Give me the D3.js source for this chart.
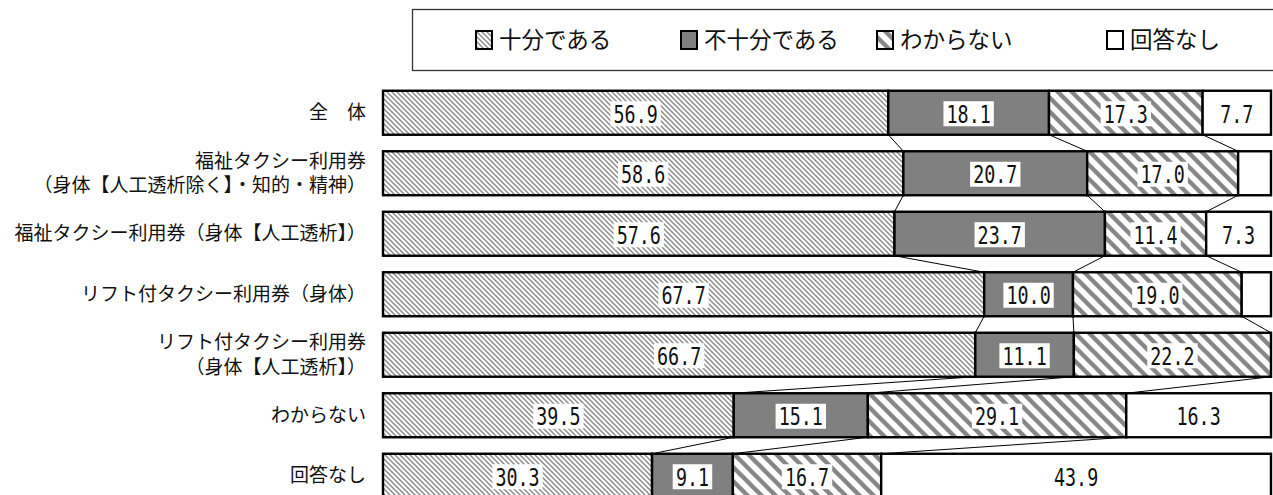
<!DOCTYPE html>
<html><head><meta charset="utf-8">
<script src="https://cdn.jsdelivr.net/npm/d3@7"></script>
<style>
html,body{margin:0;padding:0;background:#fff;overflow:hidden}
svg{display:block}
</style></head>
<body>
<svg id="chart" width="1273" height="495"></svg>
<script>
const categories = [
  "全　体",
  "福祉タクシー利用券\n（身体【人工透析除く】・知的・精神）",
  "福祉タクシー利用券（身体【人工透析】）",
  "リフト付タクシー利用券（身体）",
  "リフト付タクシー利用券\n（身体【人工透析】）",
  "わからない",
  "回答なし"
];
const seriesNames = ["十分である", "不十分である", "わからない", "回答なし"];
const sufficient   = [56.9, 58.6, 57.6, 67.7, 66.7, 39.5, 30.3];
const insufficient = [18.1, 20.7, 23.7, 10.0, 11.1, 15.1,  9.1];
const unknown      = [17.3, 17.0, 11.4, 19.0, 22.2, 29.1, 16.7];
const noAnswer     = [ 7.7,  3.7,  7.3,  3.3,  0.0, 16.3, 43.9];
const seriesValues = [sufficient, insufficient, unknown, noAnswer];

const svg = d3.select("#chart");
const defs = svg.append("defs");

// fine hatch
const fp = 5;
const p1 = defs.append("pattern").attr("id","hatchFine").attr("patternUnits","userSpaceOnUse")
  .attr("width",fp).attr("height",fp);
p1.append("rect").attr("width",fp).attr("height",fp).attr("fill","#fff");
p1.append("path").attr("d",`M0,0 L${fp},${fp} M-1,${fp-1} L1,${fp+1} M${fp-1},-1 L${fp+1},1`)
  .attr("stroke","#8c8c8c").attr("stroke-width",1.5);
// wide stripes
const wp = 14;
const p3 = defs.append("pattern").attr("id","hatchWide").attr("patternUnits","userSpaceOnUse")
  .attr("width",wp).attr("height",wp);
p3.append("rect").attr("width",wp).attr("height",wp).attr("fill","#fff");
p3.append("path").attr("d",`M0,0 L${wp},${wp} M-3,${wp-3} L3,${wp+3} M${wp-3},-3 L${wp+3},3`)
  .attr("stroke","#878787").attr("stroke-width",4.4);

const fills = ["url(#hatchFine)", "#808080", "url(#hatchWide)", "#ffffff"];

const x = d3.scaleLinear().domain([0,100]).range([383,1271]);
const y = d3.scaleBand().domain(categories).range([82.5, 506]).paddingInner(0.273).paddingOuter(0.1365);

// legend
const legG = svg.append("g");
legG.append("rect").attr("x",412.5).attr("y",9.5).attr("width",900).attr("height",61)
  .attr("fill","#fff").attr("stroke","#333").attr("stroke-width",1.3);
const legX = [476, 681, 877, 1107];
seriesNames.forEach((n,i)=>{
  legG.append("rect").attr("x",legX[i]).attr("y",31).attr("width",16).attr("height",18)
    .attr("fill",fills[i]).attr("stroke","#000").attr("stroke-width",2);
  legG.append("text").attr("x",legX[i]+23).attr("y",48).text(n)
    .attr("font-family","'Noto Sans CJK JP'").attr("font-size",22.5).attr("fill","#111");
});

// stacked data
const rows = categories.map((c,i)=>{
  let cum = 0;
  const segs = seriesValues.map((arr,k)=>{
    const s = {k, v:arr[i], x0:cum, x1:cum+arr[i]};
    cum += arr[i];
    return s;
  });
  return {c, i, segs};
});

// connectors
const conn = svg.append("g");
for (let i=0;i<rows.length-1;i++){
  for (let k=0;k<3;k++){
    const a = rows[i].segs[k].x1, b = rows[i+1].segs[k].x1;
    conn.append("line")
      .attr("x1",x(a)).attr("y1",y(rows[i].c)+y.bandwidth())
      .attr("x2",x(b)).attr("y2",y(rows[i+1].c))
      .attr("stroke","#000").attr("stroke-width",1);
  }
}

// bars
const barG = svg.append("g");
rows.forEach(r=>{
  const g = barG.append("g");
  r.segs.forEach(s=>{
    if (s.v<=0) return;
    g.append("rect").attr("x",x(s.x0)).attr("y",y(r.c))
      .attr("width",x(s.x1)-x(s.x0)).attr("height",y.bandwidth())
      .attr("fill",fills[s.k]).attr("stroke","#000").attr("stroke-width",2.4);
  });
  r.segs.forEach(s=>{
    if (s.v<5) return;
    const cx = (x(s.x0)+x(s.x1))/2, cy = y(r.c)+y.bandwidth()/2+1;
    const label = s.v.toFixed(1);
    const w = label.length*24*0.602*0.75;
    g.append("rect").attr("x",cx-w/2-3.5).attr("y",cy-12.5).attr("width",w+7).attr("height",25).attr("fill","#fff");
    g.append("text").attr("transform",`translate(${cx},${cy+8.8}) scale(0.75,1)`)
      .attr("text-anchor","middle").attr("font-family","'DejaVu Sans Mono'").attr("font-size",24.5)
      .attr("fill","#111").text(label);
  });
});

// category labels (each line its own text element)
const catG = svg.append("g");
rows.forEach(r=>{
  const lines = r.c.split("\n");
  const cy = y(r.c)+y.bandwidth()/2;
  lines.forEach((ln,j)=>{
    const off = (j-(lines.length-1)/2)*24.5;
    catG.append("text").attr("text-anchor","end")
      .attr("font-family","'Noto Sans CJK JP'").attr("font-size",19).attr("fill","#111")
      .attr("x",366).attr("y",cy+off+6.5).text(ln);
  });
});
</script>
</body></html>
